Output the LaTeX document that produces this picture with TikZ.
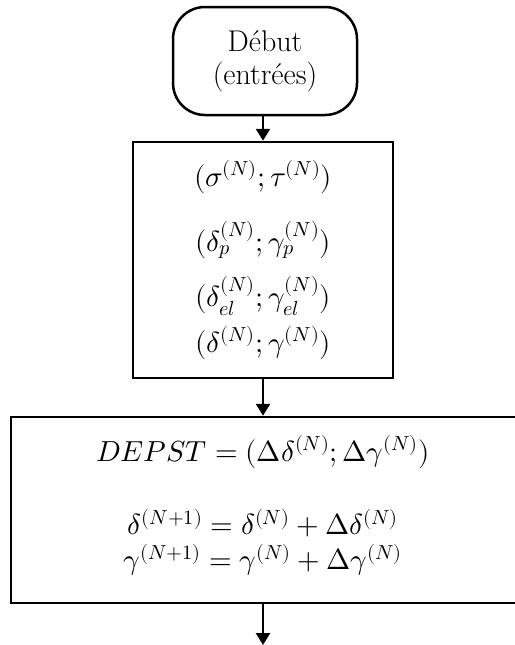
\documentclass[tikz,border=0pt]{standalone}
\usepackage{unicode-math}
\setmathfont{Latin Modern Math}
\usetikzlibrary{arrows.meta}

\tikzset{
  flowline/.style={line width=2.5pt, -{Triangle[width=14pt,length=12pt]}},
  terminal/.style={draw, line width=2.5pt, rounded corners=32pt,
    minimum width=184pt, minimum height=108pt, inner sep=0pt,
    align=center, font=\fontsize{30}{33}\selectfont},
  procbox/.style={draw, line width=2.5pt, inner sep=0pt},
  formula/.style={inner sep=0pt, font=\fontsize{29}{34}\selectfont}
}

\begin{document}
\begin{tikzpicture}[x=1pt,y=-1pt]
  \useasboundingbox (0,0) rectangle (514,645);

  % start terminal
  \node[terminal] (start) at (265,61) {Début\\(entrées)};

  % current state box
  \node[procbox, minimum width=260pt, minimum height=236pt] (state) at (263,260) {};
  \node[formula] (l1) at (263,177) {$(\sigma^{(N)};\tau^{(N)})$};
  \node[formula] (l2) at (263,240) {$(\delta_p^{(N)};\gamma_p^{(N)})$};
  \node[formula] (l3) at (263,296) {$(\delta_{el}^{(N)};\gamma_{el}^{(N)})$};
  \node[formula] (l4) at (263,343) {$(\delta^{(N)};\gamma^{(N)})$};

  % update box (runs past the right edge)
  \node[procbox, minimum width=530pt, minimum height=186pt] (update) at (276,510) {};
  \node[formula] (u1) at (263,452) {$DEPST=(\Delta\delta^{(N)};\Delta\gamma^{(N)})$};
  \node[formula] (u2) at (263,523) {$\delta^{(N+1)}=\delta^{(N)}+\Delta\delta^{(N)}$};
  \node[formula] (u3) at (263,560) {$\gamma^{(N+1)}=\gamma^{(N)}+\Delta\gamma^{(N)}$};

  \coordinate (out) at (263,645);

  % connectors
  \draw[flowline] (start.south -| state.north) -- (state.north);
  \draw[flowline] (state.south) -- (state.south |- update.north);
  \draw[flowline] (state.south |- update.south) -- (out);
\end{tikzpicture}
\end{document}
